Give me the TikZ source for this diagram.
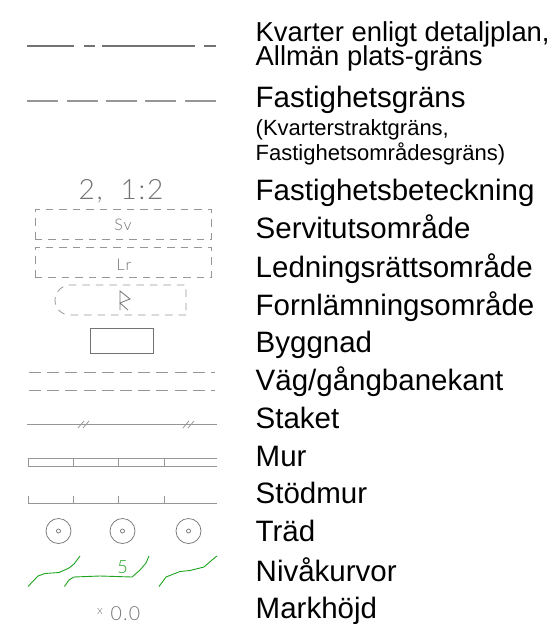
\documentclass[tikz,border=0pt]{standalone}
\usepackage{fontspec}
\setmainfont{Liberation Sans}
\newfontfamily\cad[UprightFont={* Light},LetterSpace=6]{Lato}
\definecolor{cadgray}{RGB}{115,115,115}
\definecolor{cadline}{RGB}{150,150,150}
\definecolor{cadgreen}{RGB}{30,165,30}
\tikzset{
  x=1pt,y=-1pt,
  lab/.style={anchor=base west,inner sep=0pt,font=\fontsize{29.5}{29.5}\selectfont,text=black},
  labsmall/.style={anchor=base west,inner sep=0pt,font=\fontsize{27.4}{27.4}\selectfont,text=black},
  sublab/.style={anchor=base west,inner sep=0pt,font=\fontsize{22}{22}\selectfont,text=black},
  cadtext/.style={inner sep=0pt,text=cadgray,font=\cad\fontsize{16}{16}\selectfont},
  thin line/.style={draw=cadline,line width=0.8pt},
  dashbox/.style={draw=cadline,line width=0.8pt,dash pattern=on 7.5pt off 6pt},
  tree/.style={circle,draw=cadgray,line width=0.7pt,minimum size=25pt,inner sep=0pt},
  treedot/.style={circle,draw=cadgray,line width=0.7pt,minimum size=4pt,inner sep=0pt},
  contour/.style={draw=cadgreen,line width=0.9pt},
}
\begin{document}
\begin{tikzpicture}
\useasboundingbox (0,0) rectangle (556,624);
% labels
\node[labsmall] (l1a) at (255.5,41) {Kvarter enligt detaljplan,};
\node[labsmall] (l1b) at (255.5,65.5) {Allmän plats-gräns};
\node[lab] (l2) at (255.5,107) {Fastighetsgräns};
\node[sublab] (l2a) at (255.5,135) {(Kvarterstraktgräns,};
\node[sublab] (l2b) at (255.5,160) {Fastighetsområdesgräns)};
\node[lab] (l3) at (255.5,200) {Fastighetsbeteckning};
\node[lab] (l4) at (255.5,238) {Servitutsområde};
\node[lab] (l5) at (255.5,277) {Ledningsrättsområde};
\node[lab] (l6) at (255.5,315) {Fornlämningsområde};
\node[lab] (l7) at (255.5,352) {Byggnad};
\node[lab] (l8) at (255.5,390) {Väg/gångbanekant};
\node[lab] (l9) at (255.5,428) {Staket};
\node[lab] (l10) at (255.5,466) {Mur};
\node[lab] (l11) at (255.5,503) {Stödmur};
\node[lab] (l12) at (255.5,541) {Träd};
\node[lab] (l13) at (255.5,581) {Nivåkurvor};
\node[lab] (l14) at (255.5,618) {Markhöjd};
% kvarter
\draw[draw=cadgray,line width=1.8pt] (27,46)--(74,46) (84,46)--(95,46) (102,46)--(195,46) (204,46)--(216,46);
% fastighet
\draw[draw=cadline,line width=1.1pt] (27,101)--(58,101) (67,101)--(98,101) (106,101)--(137,101) (145,101)--(176,101) (185,101)--(216,101);
% beteckning
\node[cadtext,font=\cad\fontsize{28}{28}\selectfont,anchor=base] (t1) at (121,199) {2,\hspace{18pt}1:2};
% servitut
\draw[dashbox] (35,239)--(35,209)--(211,209)--(211,239)--cycle;
\node[cadtext] (sv) at (123,225) {Sv};
% ledning
\draw[dashbox] (35,277)--(35,247)--(211,247)--(211,277)--cycle;
\node[cadtext] (lr) at (124,265) {Lr};
% fornlamning
\draw[dashbox] (186,315)--(70,315) .. controls (62,315) and (55,309) .. (55,300) .. controls (55,292) and (62,285) .. (70,285) -- (186,285)--cycle;
\draw[draw=cadgray,line width=0.8pt] (120,310)--(120,291)--(130,299)--(120,303)--(128,310);
% byggnad
\node[draw=cadgray,line width=0.9pt,minimum width=63pt,minimum height=25pt,inner sep=0pt] (byg) at (122,340.5) {};
% vag
\draw[draw=cadline,line width=0.9pt,dash pattern=on 12pt off 6.2pt] (29,372)--(215,372) (29,390.5)--(215,390.5);
% staket
\draw[thin line] (27,424.5)--(217,424.5);
\draw[thin line] (78,428)--(84,421) (83,428)--(89,421) (183,428)--(189,421) (188,428)--(194,421);
% mur
\draw[thin line] (217,458.5)--(28,458.5)--(28,466)--(217,466);
\draw[thin line] (73,458.5)--(73,466) (118.5,458.5)--(118.5,466) (164,458.5)--(164,466);
% stodmur
\draw[thin line] (217,503.5)--(28,503.5)--(28,496);
\draw[thin line] (73,496)--(73,503.5) (118.5,496)--(118.5,503.5) (164,496)--(164,503.5);
% trad
\foreach \n/\x in {a/58.5,b/122.5,c/188.5}{
  \node[tree] (tree\n) at (\x,531) {};
  \node[treedot] (dot\n) at (\x,531) {};
}
% nivakurvor
\draw[contour] (28,586.5)--(38,576)--(45,573.5)--(59,572.5)--(69,568)--(74,564)--(80,556);
\draw[contour] (64.5,586.5)--(69,580)--(74,577)--(100,576)--(132,577)--(140,570)--(146,563)--(149,556);
\draw[contour] (159,586.5)--(166,577)--(180,571.5)--(190,570.5)--(204,567)--(212,560)--(217,556);
\node[cadtext,text=cadgreen,font=\cad\fontsize{18}{18}\selectfont] (five) at (122.5,567.5) {5};
% markhojd
\node[cadtext,font=\cad\fontsize{12}{12}\selectfont] (x) at (100,612) {x};
\node[cadtext,font=\cad\fontsize{19.5}{19.5}\selectfont,anchor=base] (h) at (125.5,620) {0.0};
\end{tikzpicture}
\end{document}
